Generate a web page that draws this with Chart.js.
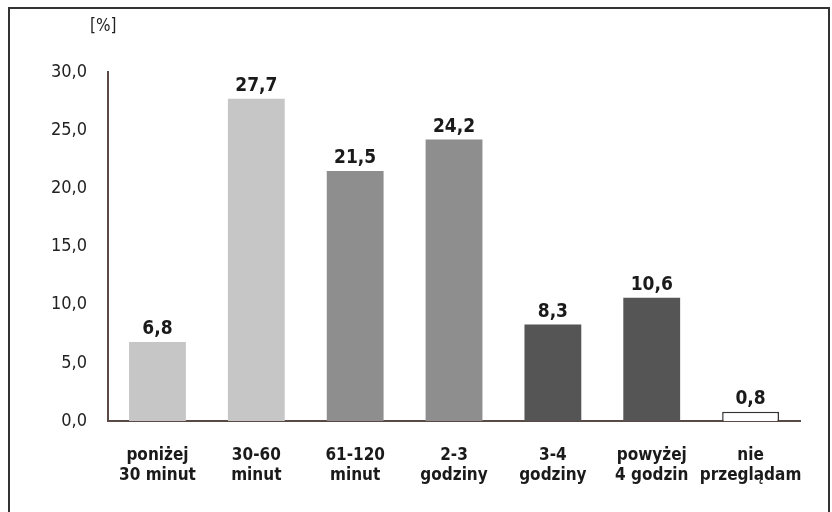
<!DOCTYPE html>
<html>
<head>
<meta charset="utf-8">
<script src="https://cdn.jsdelivr.net/npm/chart.js@4"></script>
<style>
  body { margin: 0; background: #fff; }
  #wrap { position: absolute; left: 0; top: 0; width: 832px; height: 512px; }
  #frame { position: absolute; left: 8px; top: 7px; width: 818px; height: 520px; border: 2px solid #333; }
  #unit { position: absolute; left: 90px; top: 15px; font: 17px 'Liberation Sans Narrow', 'DejaVu Sans Condensed', sans-serif; color: #222; }
</style>
</head>
<body>
<div id="wrap">
  <div id="frame"></div>
  <canvas id="myChart" width="832" height="512"></canvas>
  <div id="unit">[%]</div>
</div>
<script>
// data
const categories = [
  ["poniżej", "30 minut"],
  ["30-60", "minut"],
  ["61-120", "minut"],
  ["2-3", "godziny"],
  ["3-4", "godziny"],
  ["powyżej", "4 godzin"],
  ["nie", "przeglądam"]
];
const values = [6.8, 27.7, 21.5, 24.2, 8.3, 10.6, 0.8];
const yTicks = [0, 5, 10, 15, 20, 25, 30];

const barColors = ["#c6c6c6", "#c6c6c6", "#8e8e8e", "#8e8e8e", "#555555", "#555555", "#ffffff"];
const narrow = "'Liberation Sans Narrow', 'DejaVu Sans Condensed', sans-serif";

const fmt = v => v.toFixed(1).replace(".", ",");

// value labels above each bar
const valueLabels = {
  id: "valueLabels",
  afterDatasetsDraw(chart) {
    const c = chart.ctx;
    const meta = chart.getDatasetMeta(0);
    c.save();
    c.font = "bold 19px " + narrow;
    c.fillStyle = "#1a1a1a";
    c.textAlign = "center";
    c.textBaseline = "bottom";
    meta.data.forEach((bar, i) => {
      c.fillText(fmt(values[i]), bar.x, bar.y - 3);
    });
    c.restore();
  }
};

const ctx = document.getElementById("myChart").getContext("2d");
new Chart(ctx, {
  type: "bar",
  data: {
    labels: categories,
    datasets: [{
      data: values,
      backgroundColor: barColors,
      borderColor: "#333",
      borderWidth: (c) => c.dataIndex === 6 ? 1.5 : 0,
      categoryPercentage: 0.575,
      barPercentage: 1
    }]
  },
  options: {
    responsive: false,
    animation: false,
    layout: { padding: { top: 72, right: 32, left: 30, bottom: 3 } },
    scales: {
      y: {
        min: 0,
        max: 30,
        afterBuildTicks: (axis) => { axis.ticks = yTicks.map(v => ({ value: v })); },
        grid: { display: false, drawTicks: false },
        border: { display: true, color: "#5a4a45", width: 2 },
        ticks: {
          padding: 21,
          color: "#222",
          font: { family: narrow, size: 18 },
          callback: (v) => fmt(v)
        }
      },
      x: {
        afterFit: (axis) => { axis.height = 88; },
        grid: { display: false, drawTicks: false },
        border: { display: true, color: "#5a4a45", width: 2 },
        ticks: {
          padding: 25,
          color: "#1a1a1a",
          font: { family: narrow, size: 17, weight: "bold", lineHeight: 1.15 },
          maxRotation: 0,
          autoSkip: false
        }
      }
    },
    plugins: {
      legend: { display: false },
      tooltip: { enabled: false }
    }
  },
  plugins: [valueLabels]
});
</script>
</body>
</html>
